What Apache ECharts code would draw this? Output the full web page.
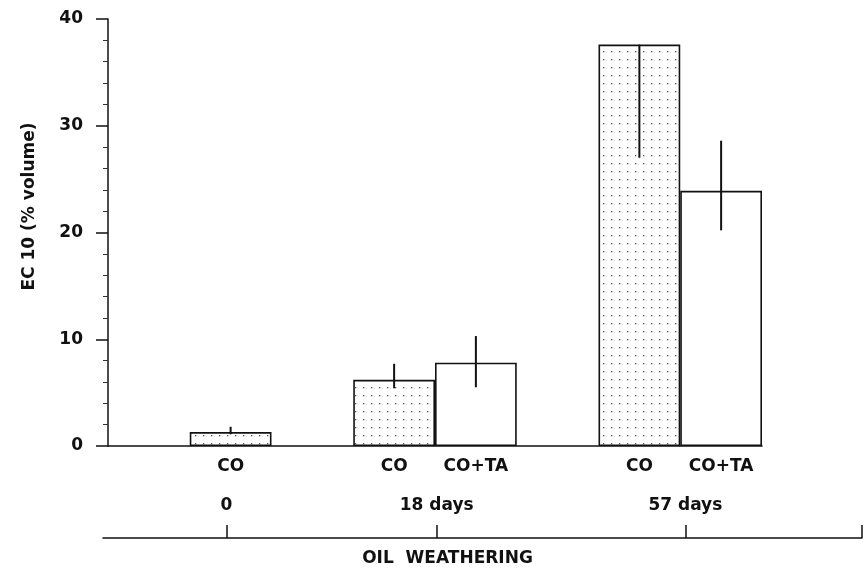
<!DOCTYPE html>
<html>
<head>
<meta charset="utf-8">
<script src="https://cdn.jsdelivr.net/npm/echarts@6/dist/echarts.min.js"></script>
<style>
  html, body { margin: 0; padding: 0; background: #fff; }
  #main { width: 865px; height: 572px; }
</style>
</head>
<body>
<div id="main"></div>
<script>
// bar slots along the x axis (empty slots are the gaps between groups)
var slotLabels = ['', 'CO', '', 'CO', 'CO+TA', '', 'CO', 'CO+TA'];
var coValues   = [null, 1.3, null, 6.2, null, null, 37.6, null];
var cotaValues = [null, null, null, null, 7.8, null, null, 23.9];
// error bars: slot index, low, high
var errSlot = [1, 3, 4, 6, 7];
var errLow  = [1.1, 5.4, 5.5, 27.0, 20.2];
var errHigh = [1.8, 7.7, 10.3, 37.6, 28.6];
// oil weathering axis (in slot units)
var weatheringLabels = ['0', '18 days', '57 days'];
var weatheringPos = [1.45, 4.02, 7.06];
var weatheringMin = -0.06, weatheringMax = 9.22;

var font = 'DejaVu Sans';

// dotted fill for the CO bars
function dotPattern() {
    var c = document.createElement('canvas');
    c.width = 8; c.height = 8;
    var ctx = c.getContext('2d');
    ctx.fillStyle = '#ffffff';
    ctx.fillRect(0, 0, 8, 8);
    ctx.fillStyle = '#555555';
    ctx.fillRect(3, 3, 1.3, 1.3);
    return c;
}

var errData = [];
for (var i = 0; i < errSlot.length; i++) {
    errData.push([errSlot[i], errLow[i], errHigh[i]]);
}

var myChart = echarts.init(document.getElementById('main'));
var option = {
    animation: false,
    backgroundColor: '#fff',
    grid: [
        { left: 108, right: 103, top: 19, bottom: 126 },
        { left: 103, right: 3, bottom: 34, height: 10 }
    ],
    xAxis: [
        {
            type: 'category',
            gridIndex: 0,
            data: slotLabels,
            axisLine: { lineStyle: { color: '#111', width: 1.5 } },
            axisTick: { show: false },
            axisLabel: {
                interval: 0, margin: 12, color: '#111',
                fontFamily: font, fontWeight: 'bold', fontSize: 17
            }
        },
        {
            type: 'value',
            gridIndex: 1,
            min: weatheringMin,
            max: weatheringMax,
            splitLine: { show: false },
            axisLine: { show: true, onZero: false, lineStyle: { color: '#111', width: 1.5 } },
            axisTick: {
                show: true, inside: true, length: 13,
                customValues: weatheringPos.concat([weatheringMax]),
                lineStyle: { color: '#111', width: 1.5 }
            },
            axisLabel: {
                show: true, inside: true, margin: 24,
                customValues: weatheringPos,
                color: '#111', fontFamily: font, fontWeight: 'bold', fontSize: 17,
                formatter: function (v) {
                    var idx = weatheringPos.indexOf(v);
                    return idx >= 0 ? weatheringLabels[idx] : '';
                }
            },
            name: 'OIL  WEATHERING',
            nameLocation: 'middle',
            nameGap: 12,
            nameTextStyle: {
                color: '#111', fontFamily: font, fontWeight: 'bold', fontSize: 17,
                padding: [0, 70, 0, 0]
            }
        }
    ],
    yAxis: [
        {
            type: 'value',
            gridIndex: 0,
            min: 0, max: 40, interval: 10,
            splitLine: { show: false },
            axisLine: { show: true, lineStyle: { color: '#111', width: 1.5 } },
            axisTick: { show: true, length: 12, lineStyle: { color: '#111', width: 1.5 } },
            minorTick: { show: true, splitNumber: 5, length: 5, lineStyle: { color: '#333' } },
            axisLabel: {
                margin: 25, color: '#111',
                fontFamily: font, fontWeight: 'bold', fontSize: 17
            },
            name: 'EC 10 (% volume)',
            nameLocation: 'middle',
            nameGap: 70,
            nameTextStyle: {
                color: '#111', fontFamily: font, fontWeight: 'bold', fontSize: 17,
                padding: [0, 0, 0, 52]
            }
        },
        { type: 'value', gridIndex: 1, show: false }
    ],
    series: [
        {
            name: 'CO',
            type: 'bar',
            xAxisIndex: 0, yAxisIndex: 0,
            data: coValues,
            barCategoryGap: '0%',
            barGap: '-100%',
            itemStyle: {
                color: { image: dotPattern(), repeat: 'repeat' },
                borderColor: '#111', borderWidth: 1.6
            }
        },
        {
            name: 'CO+TA',
            type: 'bar',
            xAxisIndex: 0, yAxisIndex: 0,
            data: cotaValues,
            barCategoryGap: '0%',
            barGap: '-100%',
            itemStyle: { color: '#fff', borderColor: '#111', borderWidth: 1.6 }
        },
        {
            name: 'error',
            type: 'custom',
            xAxisIndex: 0, yAxisIndex: 0,
            z: 10,
            data: errData,
            renderItem: function (params, api) {
                var x = api.value(0);
                var p1 = api.coord([x, api.value(1)]);
                var p2 = api.coord([x, api.value(2)]);
                return {
                    type: 'line',
                    shape: { x1: p1[0], y1: p1[1], x2: p2[0], y2: p2[1] },
                    style: { stroke: '#111', lineWidth: 2 }
                };
            }
        }
    ]
};
myChart.setOption(option);
</script>
</body>
</html>
